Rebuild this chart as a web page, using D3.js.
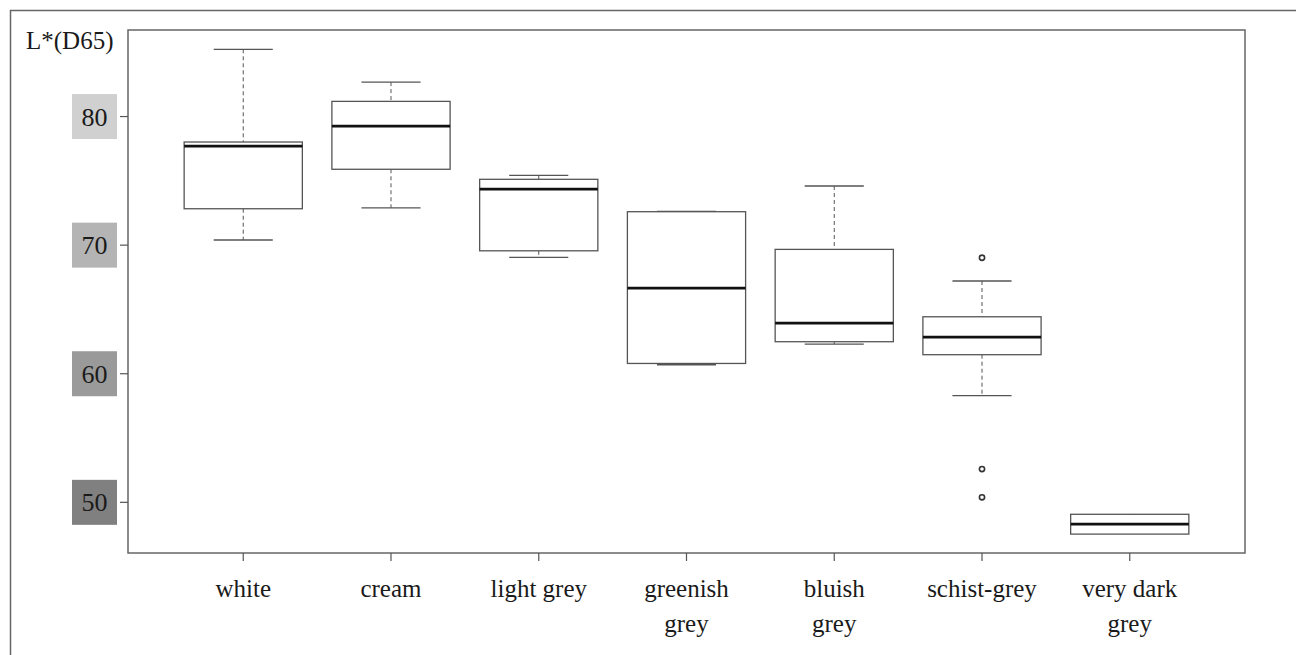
<!DOCTYPE html>
<html>
<head>
<meta charset="utf-8">
<script src="https://d3js.org/d3.v7.min.js"></script>
<style>
  body { margin: 0; background: #fff; }
  text { font-family: "Liberation Serif", "Times New Roman", serif; fill: #1a1a1a; }
</style>
</head>
<body>
<svg id="chart" width="1296" height="655"></svg>
<script>
// data
const categories = ["white", "cream", "light grey", "greenish grey", "bluish grey", "schist-grey", "very dark grey"];
const labelLines = [["white"], ["cream"], ["light grey"], ["greenish", "grey"], ["bluish", "grey"], ["schist-grey"], ["very dark", "grey"]];
const whiskerLow  = [70.4, 72.9, 69.05, 60.7, 62.3, 58.3, 47.53];
const q1          = [72.83, 75.9, 69.56, 60.8, 62.49, 61.48, 47.53];
const medians     = [77.7, 79.26, 74.36, 66.66, 63.94, 62.85, 48.31];
const q3          = [78.02, 81.18, 75.12, 72.6, 69.67, 64.43, 49.07];
const whiskerHigh = [85.23, 82.68, 75.43, 72.63, 74.6, 67.21, 49.07];
const outliers = [[], [], [], [], [], [69.02, 52.59, 50.39], []];
const yTicks = [50, 60, 70, 80];
const tickFill = { 80: "#d0d0d0", 70: "#b4b4b4", 60: "#9a9a9a", 50: "#808080" };

const svg = d3.select("#chart");
const plot = { left: 128, right: 1245, top: 30, bottom: 553 };

const y = d3.scaleLinear().domain([46.06, 86.73]).range([plot.bottom, plot.top]);
const x = d3.scaleLinear().domain([0.22, 7.78]).range([plot.left, plot.right]);
const unit = x(1) - x(0);

// outer frame (cropped figure border)
svg.append("path")
  .attr("d", `M10.5,655 V10.5 H1296`)
  .attr("fill", "none").attr("stroke", "#666").attr("stroke-width", 1.5);

// plot frame
svg.append("rect")
  .attr("x", plot.left).attr("y", plot.top)
  .attr("width", plot.right - plot.left).attr("height", plot.bottom - plot.top)
  .attr("fill", "none").attr("stroke", "#666").attr("stroke-width", 1.5);

// y axis with grey label boxes
const yAxis = svg.append("g");
yAxis.selectAll("line").data(yTicks).join("line")
  .attr("x1", 120).attr("x2", plot.left)
  .attr("y1", d => y(d)).attr("y2", d => y(d))
  .attr("stroke", "#555").attr("stroke-width", 1.2);
yAxis.selectAll("rect").data(yTicks).join("rect")
  .attr("x", 72).attr("y", d => y(d) - 22.5)
  .attr("width", 45).attr("height", 45)
  .attr("fill", d => tickFill[d]);
yAxis.selectAll("text").data(yTicks).join("text")
  .attr("x", 94.5).attr("y", d => y(d) + 9)
  .attr("text-anchor", "middle")
  .attr("font-size", 26)
  .text(d => d);

svg.append("text")
  .attr("x", 26).attr("y", 49)
  .attr("font-size", 25)
  .text("L*(D65)");

// x axis ticks and labels
const xg = svg.append("g");
xg.selectAll("line").data(categories).join("line")
  .attr("x1", (d, i) => x(i + 1)).attr("x2", (d, i) => x(i + 1))
  .attr("y1", plot.bottom).attr("y2", plot.bottom + 8)
  .attr("stroke", "#555").attr("stroke-width", 1.2);
xg.selectAll("text").data(categories).join("text")
  .attr("text-anchor", "middle")
  .attr("font-size", 25)
  .attr("y", 597)
  .each(function (d, i) {
    d3.select(this).selectAll("tspan").data(labelLines[i]).join("tspan")
      .attr("x", x(i + 1))
      .attr("dy", (t, j) => j === 0 ? 0 : 35)
      .text(t => t);
  });

// boxplots
const boxes = svg.append("g").selectAll("g").data(categories).join("g");
const bw = 0.8 * unit, cw = 0.4 * unit;

boxes.append("line")
  .attr("x1", (d, i) => x(i + 1)).attr("x2", (d, i) => x(i + 1))
  .attr("y1", (d, i) => y(whiskerHigh[i])).attr("y2", (d, i) => y(q3[i]))
  .attr("stroke", "#555").attr("stroke-dasharray", "4,3");
boxes.append("line")
  .attr("x1", (d, i) => x(i + 1)).attr("x2", (d, i) => x(i + 1))
  .attr("y1", (d, i) => y(q1[i])).attr("y2", (d, i) => y(whiskerLow[i]))
  .attr("stroke", "#555").attr("stroke-dasharray", "4,3");
boxes.filter((d, i) => whiskerHigh[i] > q3[i]).append("line")
  .attr("x1", d => x(categories.indexOf(d) + 1) - cw / 2)
  .attr("x2", d => x(categories.indexOf(d) + 1) + cw / 2)
  .attr("y1", d => y(whiskerHigh[categories.indexOf(d)]))
  .attr("y2", d => y(whiskerHigh[categories.indexOf(d)]))
  .attr("stroke", "#555").attr("stroke-width", 1.3);
boxes.filter((d, i) => whiskerLow[i] < q1[i]).append("line")
  .attr("x1", d => x(categories.indexOf(d) + 1) - cw / 2)
  .attr("x2", d => x(categories.indexOf(d) + 1) + cw / 2)
  .attr("y1", d => y(whiskerLow[categories.indexOf(d)]))
  .attr("y2", d => y(whiskerLow[categories.indexOf(d)]))
  .attr("stroke", "#555").attr("stroke-width", 1.3);
boxes.append("rect")
  .attr("x", (d, i) => x(i + 1) - bw / 2)
  .attr("y", (d, i) => y(q3[i]))
  .attr("width", bw)
  .attr("height", (d, i) => y(q1[i]) - y(q3[i]))
  .attr("fill", "#fff").attr("stroke", "#555").attr("stroke-width", 1.3);
boxes.append("line")
  .attr("x1", (d, i) => x(i + 1) - bw / 2).attr("x2", (d, i) => x(i + 1) + bw / 2)
  .attr("y1", (d, i) => y(medians[i])).attr("y2", (d, i) => y(medians[i]))
  .attr("stroke", "#111").attr("stroke-width", 2.8);
boxes.each(function (d, i) {
  d3.select(this).selectAll("circle").data(outliers[i]).join("circle")
    .attr("cx", x(i + 1)).attr("cy", v => y(v))
    .attr("r", 2.6)
    .attr("fill", "none").attr("stroke", "#333").attr("stroke-width", 1.6);
});
</script>
</body>
</html>
